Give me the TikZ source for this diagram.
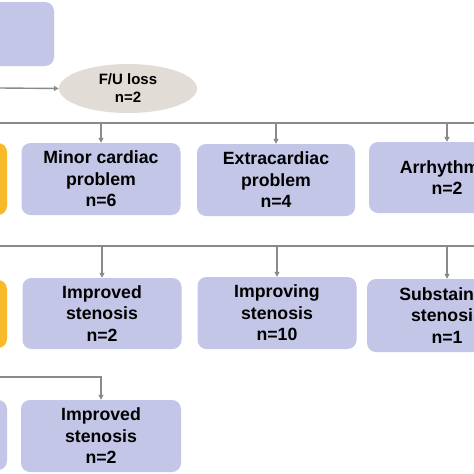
\documentclass[tikz,border=0pt]{standalone}
\usepackage{fontspec}
\setmainfont{Liberation Sans}
\usetikzlibrary{shapes.geometric,arrows.meta}
\definecolor{boxpurple}{HTML}{C4C6E7}
\definecolor{boxyellow}{HTML}{F9BA2A}
\definecolor{ellbeige}{HTML}{E2DCD6}
\definecolor{lngrey}{HTML}{8A8A8A}
\tikzset{
  pbox/.style={draw=none, fill=boxpurple, rounded corners=9pt, align=center,
    font=\fontsize{17.7}{21.5}\selectfont\bfseries, text=black, inner sep=0pt},
  ybox/.style={pbox, fill=boxyellow},
  ell/.style={ellipse, fill=ellbeige, draw=none, align=center, inner sep=0pt,
    font=\fontsize{15}{18}\selectfont\bfseries},
  conn/.style={draw=lngrey, line width=1.4pt},
  arr/.style={conn, -{Triangle[length=5pt,width=5pt]}},
}
\begin{document}
\begin{tikzpicture}[x=1pt,y=-1pt]
\clip (0,0) rectangle (474,474);
\useasboundingbox (0,0) rectangle (474,474);
\fill[white] (0,0) rectangle (474,474);
% top
\node[pbox, minimum width=74pt, minimum height=64pt] (top) at (17,34) {};
\coordinate (ellin) at (0,88);
\node[ell, minimum width=138pt, minimum height=49pt] (fu) at (128,88.5) {F/U loss\\n=2};
\draw[arr] (ellin) -- (fu.west);
% bus 1
\coordinate (b1l) at (0,123);
\coordinate (b1r) at (474,123);
\draw[conn] (b1l) -- (b1r);
\node[ybox, minimum width=37pt, minimum height=72pt] (y1) at (-11.5,179) {};
\node[pbox, minimum width=159pt, minimum height=72pt] (minor) at (101,179) {Minor cardiac\\problem\\n=6};
\node[pbox, minimum width=158pt, minimum height=72pt] (extra) at (276,180) {Extracardiac\\problem\\n=4};
\node[pbox, minimum width=156pt, minimum height=71pt] (arrh) at (447,177.5) {Arrhythmia\\n=2};
\draw[arr] (minor.north |- b1l) -- (minor.north);
\draw[arr] (extra.north |- b1l) -- (extra.north);
\draw[arr] (arrh.north |- b1l) -- (arrh.north);
% bus 2
\coordinate (b2l) at (0,246);
\coordinate (b2r) at (474,246);
\draw[conn] (b2l) -- (b2r);
\node[ybox, minimum width=37pt, minimum height=68pt] (y2) at (-11.5,314) {};
\node[pbox, minimum width=159pt, minimum height=71pt] (imp1) at (102,313.5) {Improved\\stenosis\\n=2};
\node[pbox, minimum width=159pt, minimum height=72pt] (impg) at (277,313) {Improving\\stenosis\\n=10};
\node[pbox, minimum width=160pt, minimum height=73pt] (subs) at (447,315.5) {Substained\\stenosis\\n=1};
\draw[arr] (imp1.north |- b2l) -- (imp1.north);
\draw[arr] (impg.north |- b2l) -- (impg.north);
\draw[arr] (subs.north |- b2l) -- (subs.north);
% row 3
\coordinate (b3l) at (0,377);
\node[pbox, minimum width=37pt, minimum height=70pt] (p3) at (-11.5,435) {};
\node[pbox, minimum width=160pt, minimum height=72pt] (imp2) at (101,436) {Improved\\stenosis\\n=2};
\draw[arr] (b3l) -| (imp2.north);
\end{tikzpicture}
\end{document}
